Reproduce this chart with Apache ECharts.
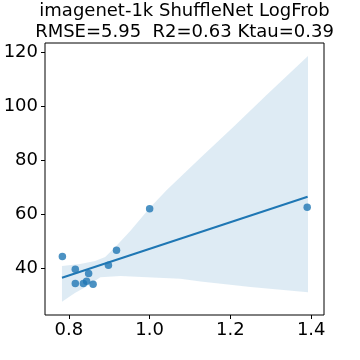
<!DOCTYPE html>
<html>
<head>
<meta charset="utf-8">
<script src="https://cdn.jsdelivr.net/npm/echarts@6/dist/echarts.min.js"></script>
<style>html,body{margin:0;padding:0;background:#fff}#c{width:360px;height:360px}</style>
</head>
<body>
<div id="c"></div>
<script>
const titleLines = ["imagenet-1k ShuffleNet LogFrob", "RMSE=5.95  R2=0.63 Ktau=0.39"];
const pointX = [0.784, 0.816, 0.816, 0.836, 0.844, 0.849, 0.860, 0.898, 0.918, 1.000, 1.390];
const pointY = [44.3, 39.5, 34.3, 34.3, 35.1, 38.0, 34.0, 41.0, 46.6, 61.9, 62.5];
const lineX = [0.783, 1.391];
const lineY = [36.4, 66.4];
const bandUpperX = [0.783, 0.828, 0.865, 0.890, 0.915, 0.952, 1.000, 1.043, 1.126, 1.209, 1.292, 1.392];
const bandUpperY = [40.7, 41.5, 42.6, 44.1, 47.8, 53.7, 62.2, 69.0, 80.8, 92.5, 104.4, 118.5];
const bandLowerX = [0.783, 0.815, 0.848, 0.865, 0.878, 0.928, 0.994, 1.076, 1.126, 1.250, 1.392];
const bandLowerY = [27.5, 30.7, 33.5, 35.3, 36.6, 37.0, 36.6, 36.0, 35.0, 33.0, 31.0];
const xTicks = [0.8, 1.0, 1.2, 1.4];
const yTicks = [40, 60, 80, 100, 120];

const blue = '#1f77b4';
const font = 'DejaVu Sans';
const chart = echarts.init(document.getElementById('c'));
const bandPts = [];
bandUpperX.forEach((x, i) => bandPts.push([x, bandUpperY[i]]));
for (let i = bandLowerX.length - 1; i >= 0; i--) bandPts.push([bandLowerX[i], bandLowerY[i]]);

chart.setOption({
  animation: false,
  graphic: [{
    type: 'text', x: 184.5, y: 1,
    style: {text: titleLines.join('\n'), textAlign: 'center', textVerticalAlign: 'top',
      font: '18px "DejaVu Sans"', fill: '#000', lineHeight: 21}
  }],
  grid: {left: 45, right: 36, top: 43, bottom: 45, show: true, borderColor: '#000', borderWidth: 1, backgroundColor: 'transparent'},
  xAxis: {
    type: 'value', min: 0.741, max: 1.4316,
    splitLine: {show: false}, axisLine: {show: false},
    axisTick: {show: true, length: 4, lineStyle: {color: '#000'}, customValues: xTicks},
    axisLabel: {fontFamily: font, fontSize: 18, color: '#000', margin: 6, customValues: xTicks, formatter: v => v.toFixed(1)}
  },
  yAxis: {
    type: 'value', min: 22.6, max: 123.3,
    splitLine: {show: false}, axisLine: {show: false},
    axisTick: {show: true, length: 4, lineStyle: {color: '#000'}, customValues: yTicks},
    axisLabel: {fontFamily: font, fontSize: 18, color: '#000', margin: 7, customValues: yTicks}
  },
  series: [
    {
      type: 'custom', z: 1, silent: true,
      renderItem: (params, api) => ({
        type: 'polygon',
        shape: {points: bandPts.map(p => api.coord(p))},
        style: {fill: blue, opacity: 0.15}
      }),
      data: [0]
    },
    {
      type: 'scatter', z: 2, symbolSize: 7.5,
      itemStyle: {color: blue, opacity: 0.8},
      data: pointX.map((x, i) => [x, pointY[i]])
    },
    {
      type: 'line', z: 3, showSymbol: false, symbol: 'none',
      lineStyle: {color: blue, width: 2},
      data: lineX.map((x, i) => [x, lineY[i]])
    }
  ]
});
</script>
</body>
</html>
